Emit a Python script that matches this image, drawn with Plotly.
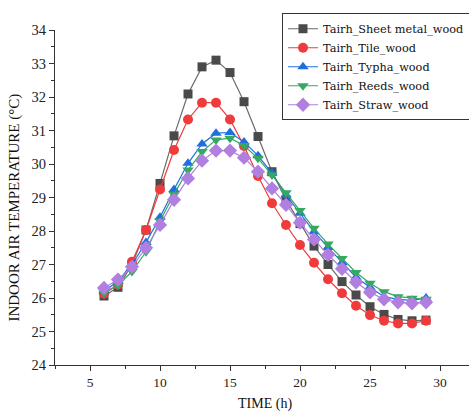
import plotly.graph_objects as go

# Hourly indoor air temperature for five roof constructions
hours = list(range(6, 30))

sheet_metal = [26.06, 26.32, 27.00, 28.03, 29.42, 30.84, 32.09, 32.90, 33.10, 32.73, 31.86, 30.82,
               29.77, 28.93, 28.22, 27.55, 27.00, 26.49, 26.09, 25.74, 25.51, 25.36, 25.32, 25.34]
tile = [26.13, 26.40, 27.08, 28.03, 29.24, 30.42, 31.33, 31.83, 31.83, 31.33, 30.54, 29.64,
        28.83, 28.18, 27.58, 27.05, 26.56, 26.14, 25.77, 25.49, 25.32, 25.24, 25.24, 25.32]
typha = [26.20, 26.50, 27.00, 27.66, 28.41, 29.24, 30.02, 30.60, 30.92, 30.94, 30.66, 30.25,
         29.73, 29.07, 28.53, 27.98, 27.51, 27.05, 26.62, 26.32, 26.04, 25.96, 25.93, 26.00]
reeds = [26.15, 26.38, 26.79, 27.38, 28.30, 29.10, 29.82, 30.37, 30.72, 30.77, 30.55, 30.17,
         29.67, 29.14, 28.61, 28.08, 27.61, 27.18, 26.76, 26.44, 26.19, 26.04, 25.99, 25.96]
straw = [26.30, 26.55, 26.93, 27.50, 28.18, 28.93, 29.57, 30.10, 30.40, 30.40, 30.19, 29.77,
         29.27, 28.78, 28.25, 27.75, 27.29, 26.87, 26.47, 26.17, 25.96, 25.87, 25.84, 25.87]

series = [
    ("Tairh_Sheet metal_wood", sheet_metal, "#4a4a4a", "#6a6a6a", "square", 9),
    ("Tairh_Tile_wood", tile, "#ef3b3b", "#ef3b3b", "circle", 10),
    ("Tairh_Typha_wood", typha, "#1f6fe0", "#1f6fe0", "triangle-up", 10),
    ("Tairh_Reeds_wood", reeds, "#35a862", "#35a862", "triangle-down", 10),
    ("Tairh_Straw_wood", straw, "#b07fe0", "#b07fe0", "diamond", 11),
]

SERIF = "Liberation Serif"
WIDE_SERIF = "DejaVu Serif"

fig = go.Figure()
for name, vals, mcol, lcol, sym, size in series:
    fig.add_trace(go.Scatter(
        x=hours, y=vals, name=name, mode="lines+markers",
        line=dict(color=lcol, width=1.2),
        marker=dict(symbol=sym, size=size, color=mcol, line=dict(width=0)),
    ))

fig.update_layout(
    width=469, height=412,
    margin=dict(l=55, r=0, t=30, b=47, autoexpand=False),
    plot_bgcolor="white", paper_bgcolor="white",
    font=dict(family=SERIF, size=13, color="#222"),
    showlegend=True,
    legend=dict(
        x=0.5483, y=1.05, xanchor="left", yanchor="top",
        bordercolor="#333", borderwidth=1, bgcolor="white",
        font=dict(family=WIDE_SERIF, size=11.3, color="#111"),
        tracegroupgap=0, itemwidth=30,
    ),
    annotations=[
        dict(text="INDOOR AIR TEMPERATURE (°C)", textangle=-90,
             xref="paper", yref="paper", x=-0.0966, y=0.47,
             xanchor="center", yanchor="middle", showarrow=False,
             font=dict(family=SERIF, size=15, color="#111")),
        dict(text="TIME (h)",
             xref="paper", yref="paper", x=0.508, y=-0.117,
             xanchor="center", yanchor="middle", showarrow=False,
             font=dict(family=SERIF, size=14, color="#111")),
    ],
)

fig.update_xaxes(
    range=[2.5, 32.07], tickvals=[5, 10, 15, 20, 25, 30],
    showgrid=False, zeroline=False,
    showline=True, linecolor="#333", linewidth=1,
    ticks="outside", ticklen=5, tickcolor="#333",
    minor=dict(dtick=2.5, tick0=2.5, ticks="outside", ticklen=3, tickcolor="#333"),
    tickfont=dict(family=SERIF, size=13.5, color="#222"),
)
fig.update_yaxes(
    range=[24, 34], dtick=1,
    showgrid=False, zeroline=False,
    showline=True, linecolor="#333", linewidth=1,
    ticks="outside", ticklen=5, tickcolor="#333",
    minor=dict(dtick=0.5, ticks="outside", ticklen=3, tickcolor="#333"),
    tickfont=dict(family=SERIF, size=14.5, color="#222"),
)

fig.write_html("out.html")
